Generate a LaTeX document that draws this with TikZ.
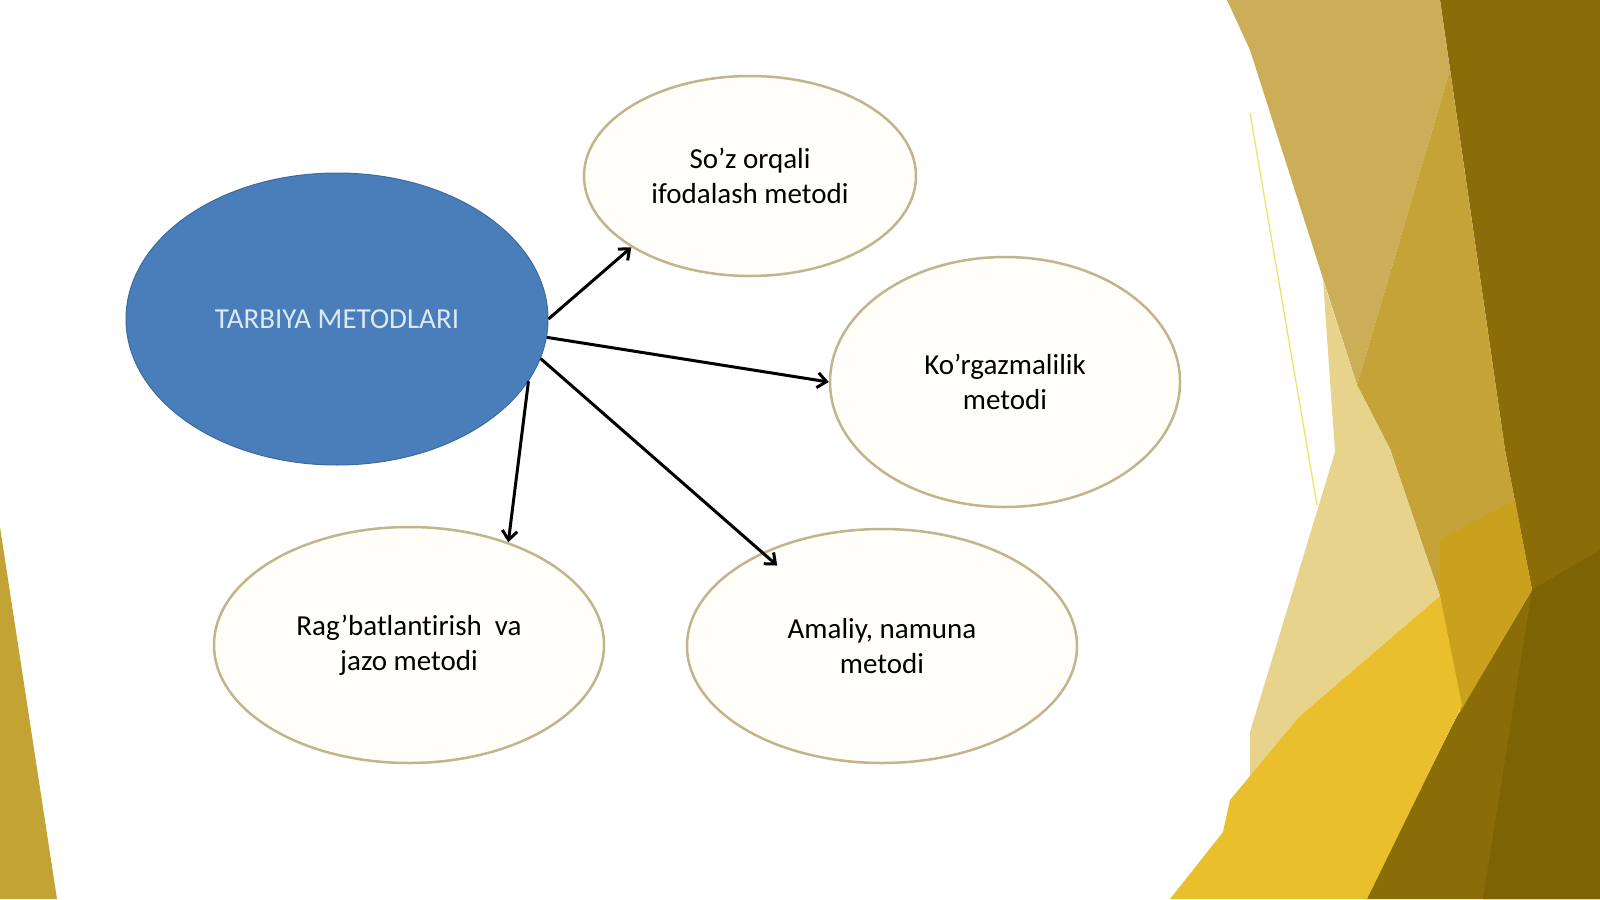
\documentclass[tikz,border=0pt]{standalone}
\usepackage{fontspec}
\setmainfont{Carlito}[Ligatures=NoCommon]
\usetikzlibrary{positioning, arrows.meta, shapes.geometric}

\definecolor{methodblue}{HTML}{4A7EBB}
\definecolor{blueedge}{HTML}{3D6A9E}
\definecolor{bluetext}{HTML}{DCE8F6}
\definecolor{ringedge}{HTML}{C2B48C}
\definecolor{ringfill}{HTML}{FFFEF9}
\definecolor{olivedark}{HTML}{8A6C09}
\definecolor{olivedeep}{HTML}{7E6304}
\definecolor{tanband}{HTML}{CBAE57}
\definecolor{mustard}{HTML}{C5A338}
\definecolor{goldband}{HTML}{C9A11C}
\definecolor{creamband}{HTML}{E8D38D}
\definecolor{yellowband}{HTML}{E9BF2B}
\definecolor{thinline}{HTML}{EEE060}
\definecolor{leftband}{HTML}{C3A334}

\begin{document}
\begin{tikzpicture}[x=1pt, y=-1pt,
    % Styles
    mainidea/.style={ellipse, draw=blueedge, fill=methodblue, line width=1pt, minimum width=422pt, minimum height=292pt, inner sep=0pt, text=bluetext, font=\fontsize{29}{35}\selectfont},
    method/.style={ellipse, draw=ringedge, fill=ringfill, line width=2.5pt, inner sep=0pt, align=center, font=\fontsize{29}{35}\selectfont},
    arrow/.style={-{Straight Barb[length=9pt, width=15pt]}, line width=3pt, black},
]
\useasboundingbox (0,0) rectangle (1600,899);

% Background
\fill[white] (0,0) rectangle (1600,899);
\fill[leftband] (0,527) -- (57,899) -- (0,899) -- cycle;

% Facets on the right
\fill[olivedark] (1440,0) -- (1600,0) -- (1600,899) -- (1365,899) -- (1457,716) -- (1532,590) -- (1505,450) -- cycle;
\fill[olivedeep] (1532,590) -- (1600,550) -- (1600,899) -- (1483,899) -- cycle;
\fill[tanband] (1227,0) -- (1440,0) -- (1450,70) -- (1357,385) -- (1250,50) -- cycle;
\fill[mustard] (1450,70) -- (1505,450) -- (1532,590) -- (1440,596) -- (1390,449) -- (1357,385) -- cycle;
\fill[goldband] (1440,540) -- (1515,500) -- (1532,590) -- (1460,712) -- (1440,596) -- cycle;
\fill[creamband] (1323,280) -- (1357,385) -- (1390,449) -- (1440,596) -- (1300,716) -- (1250,789) -- (1250,732) -- (1335,452) -- cycle;
\fill[yellowband] (1440,596) -- (1462,705) -- (1367,899) -- (1170,899) -- (1223,832) -- (1230,800) -- (1300,716) -- cycle;
\draw[thinline, line width=1.2pt] (1250,113) -- (1317,505);

% Main idea
\node[mainidea] (tarbiya) at (337,319) {TARBIYA METODLARI};

% Methods
\node[method, minimum width=332pt, minimum height=200pt] (soz) at (750,176) {So’z orqali\\ifodalash metodi};
\node[method, minimum width=350pt, minimum height=250pt] (korgaz) at (1005,382) {Ko’rgazmalilik\\metodi};
\node[method, minimum width=390pt, minimum height=236pt] (ragbat) at (409,645) {Rag’batlantirish\ \ va\\jazo metodi};
\node[method, minimum width=390pt, minimum height=234pt] (amaliy) at (882,646) {Amaliy, namuna\\metodi};

% Arrows
\draw[arrow] (tarbiya.0) -- (soz.211);
\draw[arrow] (tarbiya.-5) -- (korgaz.180);
\draw[arrow, shorten >=-20pt] (tarbiya.-11) -- (amaliy.142);
\draw[arrow] (tarbiya.-18.6) -- (ragbat.46);

\end{tikzpicture}
\end{document}
